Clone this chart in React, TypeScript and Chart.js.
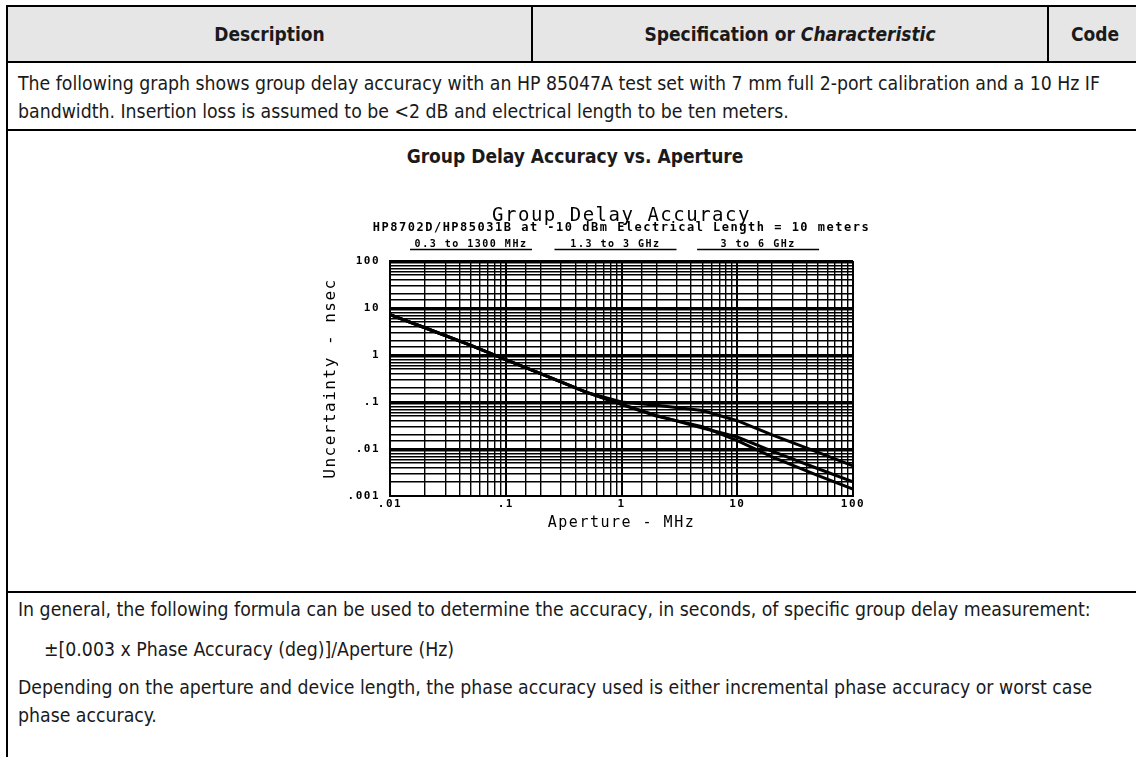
import React, { useEffect, useRef } from "react";
import { Chart, registerables } from "chart.js";

Chart.register(...registerables);

// ---------- data ----------
const apertureMHz = [0.01, 0.02, 0.05, 0.1, 0.2, 0.5, 1, 2, 5, 10, 20, 50, 100];
const uncertainty3to6GHz = [7.2, 3.8, 1.6, 0.8, 0.4, 0.16, 0.1, 0.085, 0.066, 0.04, 0.02, 0.0085, 0.0044];
const uncertainty1p3to3GHz = [7.2, 3.8, 1.6, 0.8, 0.4, 0.16, 0.09, 0.052, 0.028, 0.018, 0.009, 0.0038, 0.002];
const uncertainty0p3to1300MHz = [7.2, 3.8, 1.6, 0.8, 0.4, 0.16, 0.088, 0.05, 0.03, 0.015, 0.0068, 0.0027, 0.0014];

const bandLabels = ["0.3 to 1300 MHz", "1.3 to 3 GHz", "3 to 6 GHz"];
const xDecades = [0.01, 0.1, 1, 10, 100];
const xDecadeLabels = [".01", ".1", "1", "10", "100"];
const yDecades = [0.001, 0.01, 0.1, 1, 10, 100];
const yDecadeLabels = [".001", ".01", ".1", "1", "10", "100"];

const chartTitle = "Group Delay Accuracy";
const chartSubtitle = "HP8702D/HP85031B at -10 dBm Electrical Length = 10 meters";
const xAxisTitle = "Aperture - MHz";
const yAxisTitle = "Uncertainty - nsec";

// ---------- styling ----------
const MONO = "'DejaVu Sans Mono', 'Liberation Mono', monospace";
const DOC_FONT = "'Liberation Sans Narrow', 'Arial Narrow', 'DejaVu Sans Condensed', sans-serif";
const bandCenters = [0.175, 0.487, 0.795];
const bandUnderlineWidth = 122;

function decadeLabel(value: number, decades: number[], labels: string[]) {
  const lv = Math.log10(value);
  const i = decades.findIndex((d) => Math.abs(Math.log10(d) - lv) < 1e-6);
  return i >= 0 ? labels[i] : "";
}
function isDecade(value: number) {
  const lv = Math.log10(value);
  return Math.abs(lv - Math.round(lv)) < 1e-6;
}

const spacingPlugin = {
  id: "hpSpacing",
  beforeDraw(chart: any) {
    (chart.ctx as any).letterSpacing = "1.5px";
    // let the subtitle run wider than the plot, as on the plotter output
    const { chartArea } = chart;
    (chart.boxes || []).forEach((b: any) => {
      if (b && b.options && b.options.text === chartSubtitle) {
        b.left = chartArea.left - 60;
        b.right = chartArea.right + 60;
        b.width = b.right - b.left;
      }
    });
  },
};

const bandPlugin = {
  id: "hpBands",
  afterDraw(chart: any) {
    const { ctx, chartArea } = chart;
    const w = chartArea.right - chartArea.left;
    ctx.save();
    (ctx as any).letterSpacing = "1.5px";
    ctx.fillStyle = "#000";
    ctx.strokeStyle = "#000";
    ctx.font = `bold 10px ${MONO}`;
    ctx.textAlign = "center";
    ctx.textBaseline = "middle";
    ctx.lineWidth = 1.6;
    bandLabels.forEach((label, i) => {
      const cx = chartArea.left + w * bandCenters[i];
      ctx.fillText(label, cx, chartArea.top - 17);
      ctx.beginPath();
      ctx.moveTo(cx - bandUnderlineWidth / 2, chartArea.top - 11.5);
      ctx.lineTo(cx + bandUnderlineWidth / 2, chartArea.top - 11.5);
      ctx.stroke();
    });
    ctx.restore();
  },
};

function gridWidth(c: any) {
  return c.tick && isDecade(c.tick.value) ? 2 : 1.4;
}

function GroupDelayChart() {
  const ref = useRef<HTMLCanvasElement | null>(null);
  useEffect(() => {
    if (!ref.current) return;
    const mk = (ys: number[]) => apertureMHz.map((x, i) => ({ x, y: ys[i] }));
    const ds = (label: string, ys: number[]) => ({
      label,
      data: mk(ys),
      borderColor: "#000",
      backgroundColor: "#000",
      borderWidth: 3,
      pointRadius: 0,
      fill: false,
      tension: 0,
    });
    const chart = new Chart(ref.current, {
      type: "line",
      data: {
        datasets: [
          ds(bandLabels[0], uncertainty0p3to1300MHz),
          ds(bandLabels[1], uncertainty1p3to3GHz),
          ds(bandLabels[2], uncertainty3to6GHz),
        ],
      },
      options: {
        responsive: false,
        animation: false,
        events: [],
        layout: { padding: { left: 22, right: 47, top: 30.3, bottom: 8 } },
        plugins: {
          legend: { display: false },
          tooltip: { enabled: false },
          title: {
            display: true,
            text: chartTitle,
            fullSize: false,
            color: "#000",
            padding: 0,
            font: { family: MONO, size: 19, weight: "normal", lineHeight: 0.6 },
          },
          subtitle: {
            display: true,
            text: chartSubtitle,
            fullSize: false,
            color: "#000",
            padding: { top: 0, bottom: 27.3 },
            font: { family: MONO, size: 12, weight: "bold", lineHeight: 1 },
          },
        },
        scales: {
          x: {
            type: "logarithmic",
            min: 0.01,
            max: 100,
            afterFit: (s: any) => {
              s.height = 36;
              s.paddingLeft = 0;
              s.paddingRight = 0;
            },
            border: { display: true, color: "#000", width: 2 },
            grid: { color: "#000", lineWidth: gridWidth, drawTicks: false },
            ticks: {
              autoSkip: false,
              maxRotation: 0,
              padding: 2,
              color: "#000",
              font: { family: MONO, size: 11, weight: "bold" },
              callback: (v: any) => decadeLabel(Number(v), xDecades, xDecadeLabels),
            },
            title: {
              display: true,
              text: xAxisTitle,
              color: "#000",
              padding: 0,
              font: { family: MONO, size: 15, weight: "normal", lineHeight: 1.2 },
            },
          },
          y: {
            type: "logarithmic",
            min: 0.001,
            max: 100,
            afterFit: (s: any) => {
              s.width = 68;
              s.paddingTop = 0;
              s.paddingBottom = 0;
            },
            border: { display: true, color: "#000", width: 2 },
            grid: { color: "#000", lineWidth: gridWidth, drawTicks: false },
            ticks: {
              autoSkip: false,
              padding: 10,
              color: "#000",
              font: { family: MONO, size: 11, weight: "bold" },
              callback: (v: any) => decadeLabel(Number(v), yDecades, yDecadeLabels),
            },
            title: {
              display: true,
              text: yAxisTitle,
              color: "#000",
              padding: 0,
              font: { family: MONO, size: 16, weight: "normal", lineHeight: 18 / 16 },
            },
          },
        },
      },
      plugins: [spacingPlugin, bandPlugin],
    } as any);
    return () => chart.destroy();
  }, []);
  return (
    <canvas
      ref={ref}
      width={600}
      height={360}
      style={{ position: "absolute", left: 300, top: 180, width: 600, height: 360 }}
    />
  );
}

const line = (style: React.CSSProperties): React.CSSProperties => ({
  position: "absolute",
  background: "#000",
  ...style,
});

const textLine = (top: number, left: number): React.CSSProperties => ({
  position: "absolute",
  top,
  left,
  fontSize: 19.3,
  lineHeight: "24px",
  whiteSpace: "nowrap",
});

const headCell = (left: number, width: number): React.CSSProperties => ({
  position: "absolute",
  left,
  width,
  top: 7,
  height: 54,
  display: "flex",
  alignItems: "center",
  justifyContent: "center",
  fontWeight: "bold",
  fontSize: 19,
  whiteSpace: "pre",
});

export default function App() {
  return (
    <div
      style={{
        position: "absolute",
        left: 0,
        top: 0,
        width: 1136,
        height: 757,
        overflow: "hidden",
        background: "#fff",
        color: "#1a1a1a",
        fontFamily: DOC_FONT,
      }}
    >
      {/* header background */}
      <div style={{ position: "absolute", left: 8, top: 7, width: 1128, height: 54, background: "#e6e6e6" }} />
      {/* borders */}
      <div style={line({ left: 6, top: 5, width: 1130, height: 2 })} />
      <div style={line({ left: 6, top: 61, width: 1130, height: 2 })} />
      <div style={line({ left: 6, top: 5, width: 2, height: 752 })} />
      <div style={line({ left: 531, top: 5, width: 2, height: 58 })} />
      <div style={line({ left: 1047, top: 5, width: 2, height: 58 })} />
      <div style={line({ left: 6, top: 129, width: 1130, height: 2 })} />
      <div style={line({ left: 6, top: 591, width: 1130, height: 2 })} />

      {/* header texts */}
      <div style={headCell(8, 523)}>Description</div>
      <div style={headCell(533, 514)}>
        Specification or <i>Characteristic</i>
      </div>
      <div style={headCell(1049, 92)}>Code</div>

      {/* row text */}
      <div style={textLine(72, 18)}>
        The following graph shows group delay accuracy with an HP 85047A test set with 7 mm full 2-port calibration and a 10 Hz IF
      </div>
      <div style={textLine(100, 18)}>
        bandwidth. Insertion loss is assumed to be &lt;2 dB and electrical length to be ten meters.
      </div>

      <div style={{ position: "absolute", left: 8, width: 1136, top: 144, textAlign: "center", fontWeight: "bold", fontSize: 19, lineHeight: "24px" }}>
        <span style={{ position: "relative", left: -1 }}>Group Delay Accuracy vs. Aperture</span>
      </div>

      <GroupDelayChart />

      <div style={textLine(598, 18)}>
        In general, the following formula can be used to determine the accuracy, in seconds, of specific group delay measurement:
      </div>
      <div style={textLine(638, 44)}>±[0.003 x Phase Accuracy (deg)]/Aperture (Hz)</div>
      <div style={textLine(676, 18)}>
        Depending on the aperture and device length, the phase accuracy used is either incremental phase accuracy or worst case
      </div>
      <div style={textLine(704, 18)}>phase accuracy.</div>
    </div>
  );
}
